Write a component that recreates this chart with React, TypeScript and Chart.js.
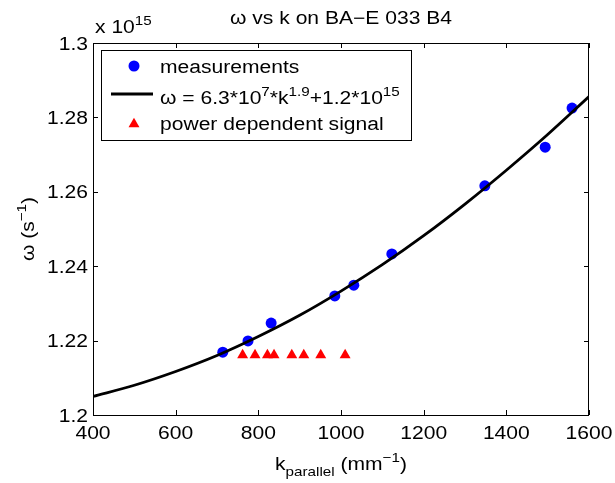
import { useEffect, useRef } from "react";
import { Chart, registerables } from "chart.js";

Chart.register(...registerables);

// ω values are in units of 10^15 s^-1, k in mm^-1
const kMeasured = [714, 775, 831, 985, 1031, 1123, 1348, 1494, 1559];
const omegaMeasured = [1.2169, 1.2199, 1.2247, 1.232, 1.2349, 1.2433, 1.2616, 1.272, 1.2825];

const kFit = [400, 500, 600, 700, 800, 900, 1000, 1100, 1200, 1300, 1400, 1500, 1600];
const omegaFit = [1.205, 1.208, 1.2117, 1.216, 1.2211, 1.2268, 1.2333, 1.2404, 1.2482, 1.2567, 1.2658, 1.2754, 1.2856];

const kPower = [762, 792, 822, 838, 881, 910, 951, 1010];
const omegaPower = [1.2161, 1.2161, 1.2161, 1.2161, 1.2161, 1.2161, 1.2161, 1.2161];

const xMin = 400;
const xMax = 1600;
const xStep = 200;
const yMin = 1.2;
const yMax = 1.3;
const yStep = 0.02;

const FONT = '"Liberation Sans", Arial, Helvetica, sans-serif';
const MAIN = 18;
const SMALL = 13;
const SX = 1.17;

type Part = { t: string; s?: "sup" | "sub" };

function partWidth(ctx: CanvasRenderingContext2D, p: Part) {
  ctx.font = `${p.s ? SMALL : MAIN}px ${FONT}`;
  return ctx.measureText(p.t).width * SX;
}

function drawRich(
  ctx: CanvasRenderingContext2D,
  x: number,
  y: number,
  parts: Part[],
  align: "left" | "center" | "right"
) {
  const total = parts.reduce((w, p) => w + partWidth(ctx, p), 0);
  let cx = align === "left" ? x : align === "center" ? x - total / 2 : x - total;
  ctx.textAlign = "left";
  ctx.textBaseline = "alphabetic";
  for (const p of parts) {
    const w = partWidth(ctx, p);
    ctx.font = `${p.s ? SMALL : MAIN}px ${FONT}`;
    const dy = p.s === "sup" ? -8 : p.s === "sub" ? 6 : 0;
    ctx.save();
    ctx.translate(cx, y + dy);
    ctx.scale(SX, 1);
    ctx.fillText(p.t, 0, 0);
    ctx.restore();
    cx += w;
  }
}

const decorations = {
  id: "decorations",
  afterDraw(chart: Chart) {
    const ctx = chart.ctx;
    const { left, right, top, bottom } = chart.chartArea;
    const xs = chart.scales.x;
    const ys = chart.scales.y;
    ctx.save();
    ctx.fillStyle = "#000";
    ctx.strokeStyle = "#000";
    ctx.lineWidth = 1;

    // axes box
    ctx.strokeRect(left + 0.5, top + 0.5, right - left - 1, bottom - top);

    // inward ticks on all four sides plus tick labels
    const tl = 5;
    ctx.beginPath();
    xs.ticks.forEach((t) => {
      const px = Math.round(xs.getPixelForValue(t.value)) + 0.5;
      ctx.moveTo(px, bottom);
      ctx.lineTo(px, bottom - tl);
      ctx.moveTo(px, top);
      ctx.lineTo(px, top + tl);
    });
    ys.ticks.forEach((t) => {
      const py = Math.round(ys.getPixelForValue(t.value)) + 0.5;
      ctx.moveTo(left, py);
      ctx.lineTo(left + tl, py);
      ctx.moveTo(right, py);
      ctx.lineTo(right - tl, py);
    });
    ctx.stroke();

    xs.ticks.forEach((t) => {
      drawRich(ctx, xs.getPixelForValue(t.value), bottom + 24, [{ t: String(t.value) }], "center");
    });
    ys.ticks.forEach((t) => {
      const label = String(Number(t.value.toFixed(2)));
      drawRich(ctx, left - 5, ys.getPixelForValue(t.value) + 6.5, [{ t: label }], "right");
    });

    // title and exponent multiplier
    drawRich(ctx, (left + right) / 2, 24, [{ t: "ω vs k on BA−E 033 B4" }], "center");
    drawRich(ctx, left + 2, 33, [{ t: "x 10" }, { t: "15", s: "sup" }], "left");

    // axis labels
    drawRich(
      ctx,
      (left + right) / 2,
      470,
      [{ t: "k" }, { t: "parallel", s: "sub" }, { t: " (mm" }, { t: "−1", s: "sup" }, { t: ")" }],
      "center"
    );
    ctx.save();
    ctx.translate(34, (top + bottom) / 2);
    ctx.rotate(-Math.PI / 2);
    drawRich(ctx, 0, 0, [{ t: "ω (s" }, { t: "−1", s: "sup" }, { t: ")" }], "center");
    ctx.restore();

    // legend
    const lx = 101;
    const ly = 50;
    const lw = 310;
    const lh = 90;
    ctx.fillStyle = "#fff";
    ctx.fillRect(lx, ly, lw, lh);
    ctx.strokeRect(lx + 0.5, ly + 0.5, lw, lh);

    const mx = 134;
    ctx.fillStyle = "#0000ff";
    ctx.beginPath();
    ctx.arc(mx, 66, 5.5, 0, Math.PI * 2);
    ctx.fill();

    ctx.strokeStyle = "#000";
    ctx.lineWidth = 2.8;
    ctx.beginPath();
    ctx.moveTo(111, 94);
    ctx.lineTo(153, 94);
    ctx.stroke();

    ctx.fillStyle = "#ff0000";
    const r = 6.3;
    const ty = 124;
    ctx.beginPath();
    ctx.moveTo(mx, ty - r);
    ctx.lineTo(mx + r * 0.866, ty + r / 2);
    ctx.lineTo(mx - r * 0.866, ty + r / 2);
    ctx.closePath();
    ctx.fill();

    ctx.fillStyle = "#000";
    const tx = 160;
    drawRich(ctx, tx, 73, [{ t: "measurements" }], "left");
    drawRich(
      ctx,
      tx,
      104,
      [
        { t: "ω = 6.3*10" },
        { t: "7", s: "sup" },
        { t: "*k" },
        { t: "1.9", s: "sup" },
        { t: "+1.2*10" },
        { t: "15", s: "sup" },
      ],
      "left"
    );
    drawRich(ctx, tx, 130, [{ t: "power dependent signal" }], "left");
    ctx.restore();
  },
};

export default function App() {
  const ref = useRef<HTMLCanvasElement | null>(null);

  useEffect(() => {
    document.body.style.margin = "0";
    const canvas = ref.current;
    if (!canvas) return;
    const chart = new Chart(canvas, {
      type: "scatter",
      data: {
        datasets: [
          {
            label: "fit",
            type: "line",
            data: kFit.map((k, i) => ({ x: k, y: omegaFit[i] })),
            borderColor: "#000",
            borderWidth: 2.8,
            pointRadius: 0,
            fill: false,
            cubicInterpolationMode: "monotone",
            order: 0,
          },
          {
            label: "measurements",
            data: kMeasured.map((k, i) => ({ x: k, y: omegaMeasured[i] })),
            pointStyle: "circle",
            pointRadius: 5.5,
            backgroundColor: "#0000ff",
            borderWidth: 0,
            order: 1,
          },
          {
            label: "power dependent signal",
            data: kPower.map((k, i) => ({ x: k, y: omegaPower[i] })),
            pointStyle: "triangle",
            pointRadius: 6.3,
            backgroundColor: "#ff0000",
            borderWidth: 0,
            order: 2,
          },
        ],
      },
      options: {
        animation: false,
        responsive: false,
        devicePixelRatio: 1,
        layout: { padding: { top: 43, right: 26, left: 0, bottom: 0 } },
        plugins: { legend: { display: false }, tooltip: { enabled: false }, title: { display: false } },
        scales: {
          x: {
            type: "linear",
            min: xMin,
            max: xMax,
            ticks: { stepSize: xStep, display: false },
            grid: { display: false, drawTicks: false },
            border: { display: false },
            afterFit: (s: any) => {
              s.height = 68;
            },
          },
          y: {
            type: "linear",
            min: yMin,
            max: yMax,
            ticks: { stepSize: yStep, display: false },
            grid: { display: false, drawTicks: false },
            border: { display: false },
            afterFit: (s: any) => {
              s.width = 93;
            },
          },
        },
      },
      plugins: [decorations],
    });
    return () => chart.destroy();
  }, []);

  return (
    <div style={{ width: 615, height: 483, background: "#fff" }}>
      <canvas ref={ref} width={615} height={483} style={{ display: "block" }} />
    </div>
  );
}
